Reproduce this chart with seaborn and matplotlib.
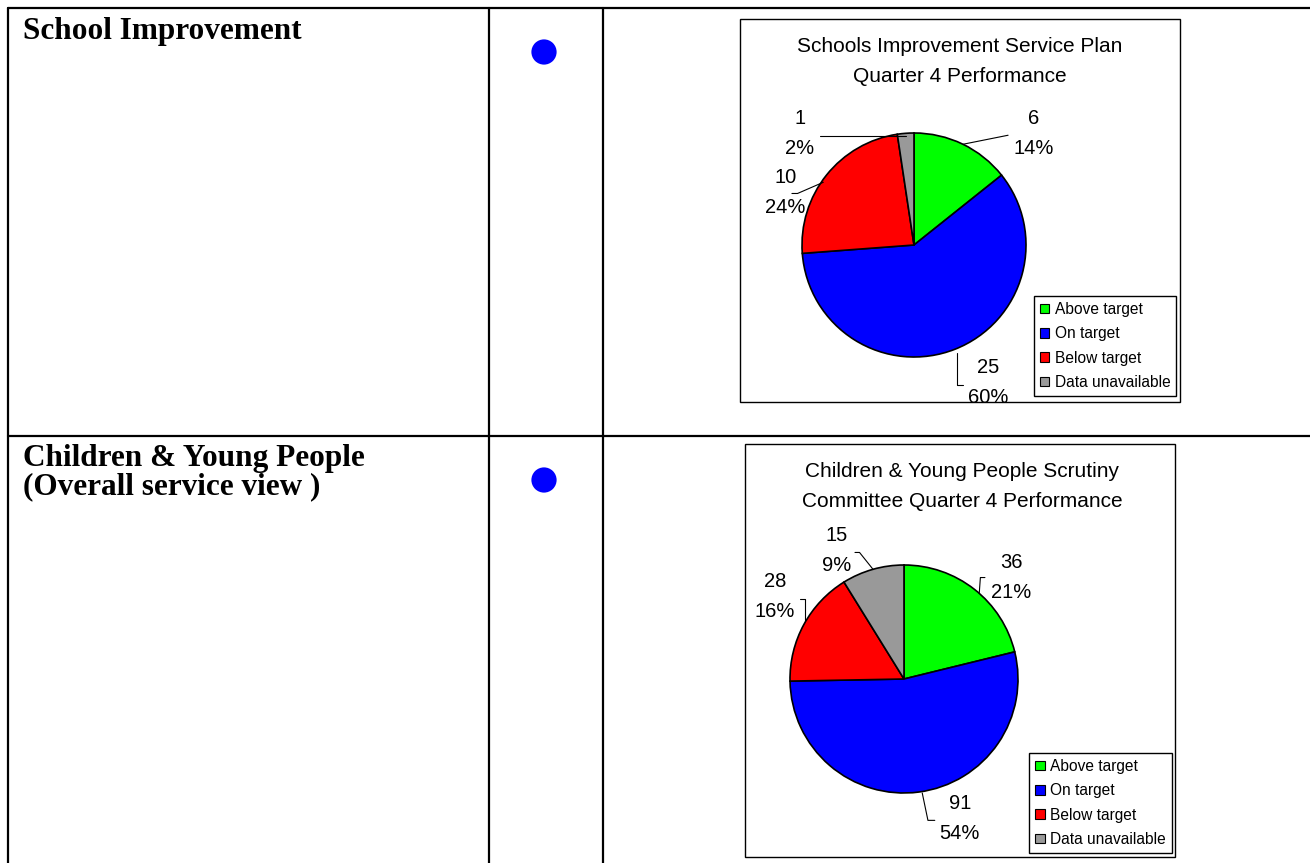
import numpy as np
import pandas as pd
import seaborn as sns
import matplotlib.pyplot as plt
from matplotlib.patches import Patch, Rectangle

sns.set_theme(style="white")
plt.rcParams['font.family'] = ['Liberation Sans', 'DejaVu Sans']
plt.rcParams['text.color'] = 'black'

# data
categories = ["Above target", "On target", "Below target", "Data unavailable"]
colours = ["#00FF00", "#0000FF", "#FF0000", "#999999"]
school_counts = [6, 25, 10, 1]
cyp_counts = [36, 91, 28, 15]
row_titles = [["School Improvement"], ["Children & Young People", "(Overall service view )"]]
chart_titles = [["Schools Improvement Service Plan", "Quarter 4 Performance"],
                ["Children & Young People Scrutiny", "Committee Quarter 4 Performance"]]
status = pd.DataFrame({"row": [0, 1], "status": ["On target", "On target"]})

W, H = 1310, 863
fig = plt.figure(figsize=(W / 100, H / 100), dpi=100)

# page-sized axes in pixel units for the table grid
bg = fig.add_axes([0, 0, 1, 1])

lw = 1.6
bg.plot([8, W], [8, 8], color='black', lw=lw)
bg.plot([8, W], [436, 436], color='black', lw=lw)
for x in [8, 489, 603]:
    bg.plot([x, x], [8, H], color='black', lw=lw)

row_base = [39, 466]
for i, lines in enumerate(row_titles):
    for j, t in enumerate(lines):
        bg.text(23, row_base[i] + 28 * j, t, family=['Liberation Serif'], weight='bold',
                fontsize=22.5, va='baseline', ha='left')

# status dots
status["x"] = 544
status["y"] = [[52, 480][r] for r in status["row"]]
sns.scatterplot(data=status, x="x", y="y", ax=bg, color="#0000FF", s=330,
                marker='o', edgecolor='none', legend=False)
bg.set_xlim(0, W)
bg.set_ylim(H, 0)
bg.axis('off')

# chart layout (pixels): box, pie centre, radius, legend box
charts = [
    dict(counts=school_counts, title=chart_titles[0], box=(740, 19, 440, 383),
         centre=(914, 245), r=112, title_y=(47, 76), title_x=960, leg=(1033, 294, 144, 104),
         lab=[(1.07, 1.0), (0.66, -1.23), (-1.15, 0.47), (-1.02, 1.0)],
         lead=[[(0.44, 0.90), (0.84, 0.98)],
               [(0.38, -0.96), (0.38, -1.25), (0.44, -1.25)],
               [(-0.81, 0.56), (-1.04, 0.46), (-1.09, 0.46)],
               [(-0.07, 0.97), (-0.84, 0.97)]]),
    dict(counts=cyp_counts, title=chart_titles[1], box=(745, 444, 430, 413),
         centre=(904, 679), r=114, title_y=(471, 501), title_x=962, leg=(1028, 751, 145, 104),
         lab=[(0.94, 0.89), (0.49, -1.22), (-1.13, 0.72), (-0.59, 1.13)],
         lead=[[(0.66, 0.75), (0.67, 0.89), (0.71, 0.89)],
               [(0.16, -1.0), (0.21, -1.24), (0.27, -1.24)],
               [(-0.87, 0.52), (-0.87, 0.70), (-0.91, 0.70)],
               [(-0.27, 0.96), (-0.39, 1.11), (-0.43, 1.11)]]),
]

for c in charts:
    bx, by, bw, bh = c["box"]
    bg.add_patch(Rectangle((bx, by), bw, bh, fill=False, edgecolor='black', lw=1.0))
    for t, ty in zip(c["title"], c["title_y"]):
        bg.text(c["title_x"], ty, t, ha='center', va='center', fontsize=15)

    cx, cy = c["centre"]
    r = c["r"]
    k = 1.6
    s = 2 * k * r
    ax = fig.add_axes([(cx - s / 2) / W, 1 - (cy + s / 2) / H, s / W, s / H])
    ax.pie(c["counts"], colors=colours, startangle=90, counterclock=False,
           wedgeprops=dict(edgecolor='black', linewidth=1.2))
    ax.set_xlim(-k, k)
    ax.set_ylim(-k, k)
    ax.set_aspect('equal')
    ax.axis('off')

    total = sum(c["counts"])
    step = 15 / r  # half line step in pie units
    for v, pos, pts in zip(c["counts"], c["lab"], c["lead"]):
        ax.text(pos[0], pos[1] + step, f"{v}", ha='center', va='center', fontsize=14.5)
        ax.text(pos[0], pos[1] - step, f"{round(100 * v / total):.0f}%", ha='center',
                va='center', fontsize=14.5)
        xs, ys = zip(*pts)
        ax.plot(xs, ys, color='black', lw=0.8)

    lx, ly, lw_, lh = c["leg"]
    handles = [Patch(facecolor=col, edgecolor='black', linewidth=0.8) for col in colours]
    leg = fig.legend(handles, categories, loc='center',
                     bbox_to_anchor=(lx / W, 1 - (ly + lh) / H, lw_ / W, lh / H),
                     bbox_transform=fig.transFigure, fontsize=11.2, frameon=True,
                     fancybox=False, framealpha=1, edgecolor='black',
                     handlelength=0.6, handleheight=0.6, handletextpad=0.35,
                     labelspacing=0.6, borderpad=0.4, borderaxespad=0)
    leg.get_frame().set_linewidth(1.0)

fig.savefig("out.png", dpi=100)
